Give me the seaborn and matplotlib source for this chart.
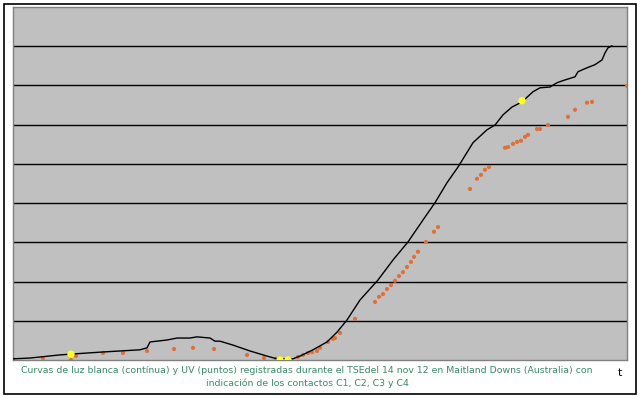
import matplotlib
matplotlib.use("Agg")
import matplotlib.pyplot as plt
import seaborn as sns
import pandas as pd
from matplotlib.patches import Rectangle

# white light curve (time index, brightness in grid units)
t_white = [0, 17, 47, 58, 87, 127, 134, 137, 154, 164, 177, 184, 197, 202, 207,
           220, 237, 254, 264, 272, 280, 287, 300, 314, 324, 334, 347, 365, 380,
           395, 410, 422, 434, 445, 460, 474, 482, 490, 499, 509, 520, 527, 537,
           544, 552, 562, 565, 574, 582, 589, 592, 595, 599]
v_white = [0.03, 0.05, 0.13, 0.15, 0.20, 0.26, 0.31, 0.46, 0.51, 0.56, 0.56, 0.59,
           0.56, 0.48, 0.48, 0.38, 0.23, 0.10, 0.03, 0.03, 0.03, 0.10, 0.26, 0.46,
           0.71, 1.02, 1.53, 2.04, 2.55, 3.01, 3.57, 4.01, 4.52, 4.92, 5.54, 5.87,
           5.99, 6.25, 6.45, 6.58, 6.84, 6.94, 6.96, 7.07, 7.14, 7.22, 7.35, 7.45,
           7.53, 7.65, 7.83, 7.96, 8.01]

# UV points
t_uv = [0, 30, 58, 63, 90, 110, 134, 161, 180, 201, 234, 251, 263, 285, 290, 295,
        299, 304, 307, 315, 320, 322, 327, 342, 362, 366, 370, 374, 378, 382, 386,
        390, 394, 398, 401, 405, 413, 421, 425, 457, 464, 468, 472, 476, 492, 495,
        500, 504, 508, 512, 515, 524, 527, 535, 555, 562, 574, 579, 614]
v_uv = [0.03, 0.05, 0.00, 0.10, 0.18, 0.18, 0.23, 0.28, 0.31, 0.28, 0.13, 0.05,
        0.03, 0.08, 0.13, 0.18, 0.20, 0.23, 0.31, 0.46, 0.54, 0.56, 0.69, 1.05,
        1.48, 1.61, 1.68, 1.81, 1.91, 2.02, 2.14, 2.24, 2.37, 2.50, 2.63, 2.76,
        3.01, 3.27, 3.39, 4.36, 4.62, 4.72, 4.85, 4.92, 5.41, 5.43, 5.51, 5.56,
        5.59, 5.69, 5.74, 5.89, 5.89, 5.99, 6.20, 6.38, 6.56, 6.58, 6.99]

# contacts C1..C4
t_contacts = [58, 267, 275, 509]
v_contacts = [0.15, 0.00, 0.00, 6.61]

caption = ("Curvas de luz blanca (contínua) y UV (puntos) registradas durante el TSEdel "
           "14 nov 12 en Maitland Downs (Australia) con\n"
           "indicación de los contactos C1, C2, C3 y C4")

white = pd.DataFrame({"t": t_white, "v": v_white})
uv = pd.DataFrame({"t": t_uv, "v": v_uv})
contacts = pd.DataFrame({"t": t_contacts, "v": v_contacts})

sns.set_style("white")
fig = plt.figure(figsize=(6.4, 3.99), dpi=100)
fig.patches.append(Rectangle((4 / 640, 5 / 399), 632 / 640, 390 / 399,
                             transform=fig.transFigure, fill=False,
                             edgecolor="black", linewidth=1.2))

ax = fig.add_axes([13 / 640, 1 - 360 / 399, 614 / 640, 353 / 399])
ax.set_facecolor("#c0c0c0")
for s in ax.spines.values():
    s.set_color("#808080")
    s.set_linewidth(1)

for g in range(1, 9):
    ax.axhline(g, color="black", linewidth=1, zorder=1)

sns.scatterplot(data=uv, x="t", y="v", ax=ax, color="#e0703a", s=9,
                edgecolor="none", zorder=2, legend=False)
sns.lineplot(data=white, x="t", y="v", ax=ax, color="black", linewidth=1.0,
             estimator=None, sort=False, zorder=3)
sns.scatterplot(data=contacts, x="t", y="v", ax=ax, color="#ffff20", s=28,
                edgecolor="none", zorder=4, legend=False)

ax.set_xlim(0, 614)
ax.set_ylim(0, 9)
ax.set_xticks([])
ax.set_yticks([])
ax.set_xlabel("")
ax.set_ylabel("")

fig.text(307 / 640, 1 - 377 / 399, caption, ha="center", va="center",
         fontsize=6.75, color="#3a8a68", linespacing=1.45, family="DejaVu Sans")
fig.text(620 / 640, 1 - 373 / 399, "t", ha="center", va="center",
         fontsize=8, color="black")

fig.savefig("out.png", dpi=100)
